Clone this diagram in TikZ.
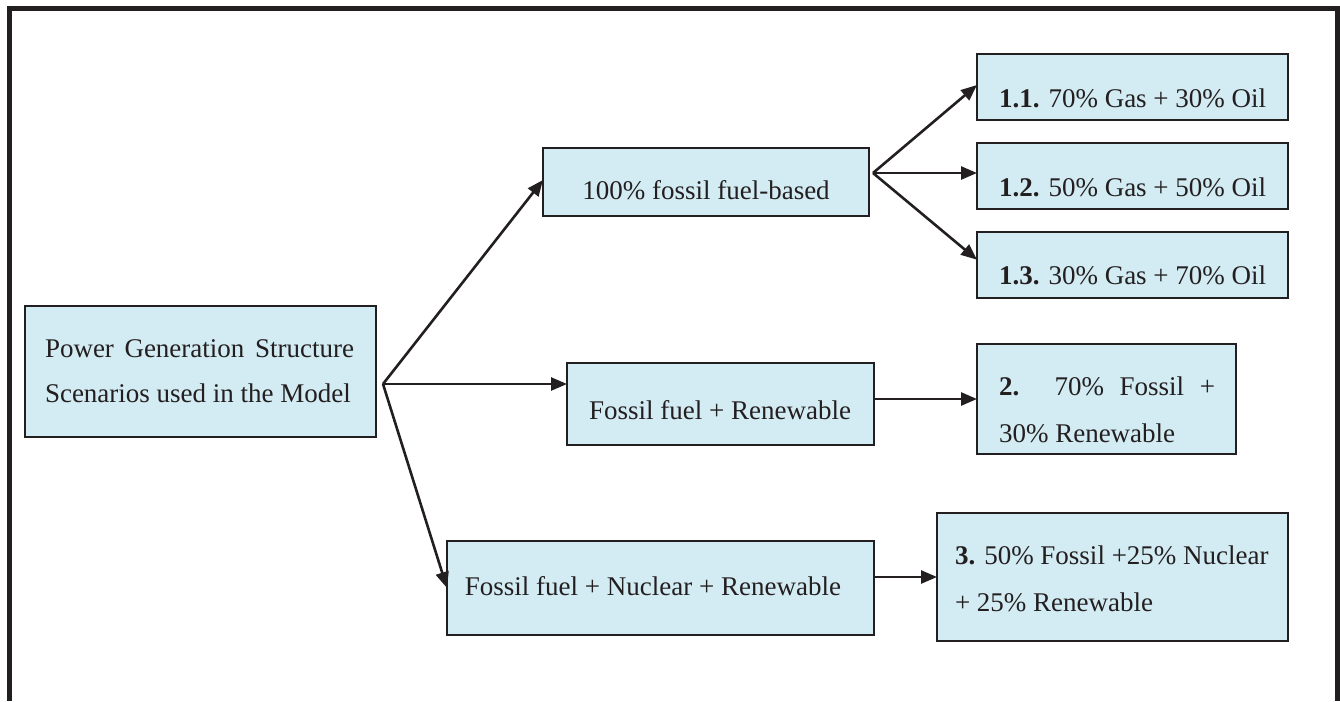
\documentclass[tikz,border=0pt]{standalone}
\usepackage{fontspec}
\setmainfont{Liberation Serif}
\usetikzlibrary{arrows.meta,calc}
\definecolor{boxblue}{RGB}{211,235,242}
\definecolor{ink}{RGB}{35,31,32}
\begin{document}
\begin{tikzpicture}[x=1pt,y=-1pt,
  box/.style={draw=ink,line width=2pt,fill=boxblue,rectangle,inner sep=0pt,outer sep=0pt,anchor=north west},
  txt/.style={inner sep=0pt,outer sep=0pt,anchor=base west,text=ink,font=\fontsize{27}{46}\selectfont},
  ctxt/.style={txt,anchor=base},
  arr/.style={draw=ink,line width=2.6pt,-{Triangle[length=16pt,width=13pt]}}]
\useasboundingbox (0,0) rectangle (1340,701);
% outer frame (open at the bottom)
\draw[ink,line width=5pt] (9,701) -- (9,9) -- (1337,9) -- (1337,701);
% boxes
\node[box,minimum width=351pt,minimum height=131pt] (root) at (25,306) {};
\node[box,minimum width=326pt,minimum height=68pt] (A) at (543,148) {};
\node[box,minimum width=307pt,minimum height=82pt] (B) at (567,363) {};
\node[box,minimum width=427pt,minimum height=94pt] (C) at (447,541) {};
\node[box,minimum width=311pt,minimum height=66pt] (b11) at (977,54) {};
\node[box,minimum width=311pt,minimum height=66pt] (b12) at (977,143) {};
\node[box,minimum width=311pt,minimum height=66pt] (b13) at (977,232) {};
\node[box,minimum width=259pt,minimum height=110pt] (b2) at (977,344) {};
\node[box,minimum width=351pt,minimum height=128pt] (b3) at (937,513) {};
% texts
\node[txt] (rootl1) at (45,357) {\makebox[309pt][s]{Power Generation Structure}};
\node[txt] (rootl2) at (45,402) {Scenarios used in the Model};
\node[ctxt] (At) at (706,199) {100\% fossil fuel-based};
\node[ctxt] (Bt) at (720,419) {Fossil fuel + Renewable};
\node[ctxt] (Ct) at (653,595) {Fossil fuel + Nuclear + Renewable};
\node[txt] (t11) at (999,107) {\textbf{1.1.} 70\% Gas + 30\% Oil};
\node[txt] (t12) at (999,196) {\textbf{1.2.} 50\% Gas + 50\% Oil};
\node[txt] (t13) at (999,284) {\textbf{1.3.} 30\% Gas + 70\% Oil};
\node[txt] (t2a) at (999,395) {\makebox[216pt][s]{\textbf{2.} 70\% Fossil +}};
\node[txt] (t2b) at (999,442) {30\% Renewable};
\node[txt] (t3a) at (955,564) {\textbf{3.} 50\% Fossil +25\% Nuclear};
\node[txt] (t3b) at (955,611) {+ 25\% Renewable};
% fork points
\coordinate (rf) at ([shift={(7,12.5)}]root.east);
\coordinate (af) at ([shift={(4,-9)}]A.east);
% connectors
\draw[arr] (rf) -- ($(A.north west)!0.47!(A.south west)$);
\draw[arr] (rf) -- (B.west |- rf);
\draw[arr] (rf) -- (C.west);
\draw[arr] (af) -- ($(b11.north west)!0.47!(b11.south west)$);
\draw[arr] (af) -- (b12.west |- af);
\draw[arr] (af) -- ($(b13.north west)!0.42!(b13.south west)$);
\draw[arr] (B.east |- b2.west) -- (b2.west);
\draw[arr] (C.east |- b3.west) -- (b3.west);
\end{tikzpicture}
\end{document}
